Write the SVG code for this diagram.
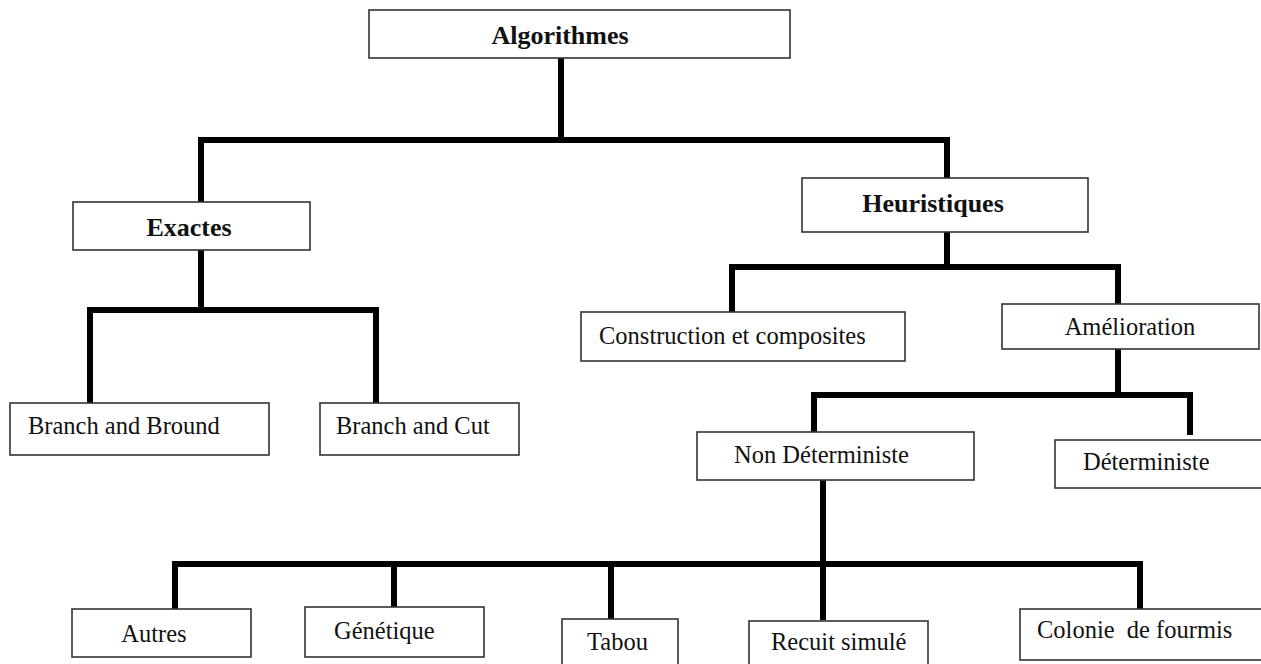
<svg xmlns="http://www.w3.org/2000/svg" width="1261" height="664" viewBox="0 0 1261 664">
<style>
.box{fill:#fff;stroke:#333;stroke-width:1.6}
.b{font-family:"Liberation Serif","Times New Roman",serif;font-weight:bold;font-size:26px;fill:#111}
.r{font-family:"Liberation Serif","Times New Roman",serif;font-size:24.5px;fill:#111}
.c{fill:none;stroke:#000;stroke-width:6;stroke-linejoin:miter;stroke-linecap:butt}
</style>
<rect width="1261" height="664" fill="#fff"/>
<g id="connectors">
<path class="c" d="M561 58 V140"/>
<path class="c" d="M201 202 V140 H947 V178"/>
<path class="c" d="M201 250 V310"/>
<path class="c" d="M90 403 V310 H376 V403"/>
<path class="c" d="M947 232 V267"/>
<path class="c" d="M732 312 V267 H1118 V304"/>
<path class="c" d="M1118 349 V395"/>
<path class="c" d="M814 432 V395 H1190 V435"/>
<path class="c" d="M823 480 V620"/>
<path class="c" d="M175 609 V564 H1140 V609"/>
<path class="c" d="M394 564 V607"/>
<path class="c" d="M611 564 V619"/>
</g>
<g id="algorithmes"><rect class="box" x="369" y="10" width="421" height="48"/><text class="b" x="560" y="44" text-anchor="middle">Algorithmes</text></g>
<g id="exactes"><rect class="box" x="73" y="202" width="237" height="48"/><text class="b" x="189" y="236" text-anchor="middle">Exactes</text></g>
<g id="heuristiques"><rect class="box" x="802" y="178" width="286" height="54"/><text class="b" x="933" y="212" text-anchor="middle">Heuristiques</text></g>
<g id="construction"><rect class="box" x="581" y="312" width="324" height="49"/><text class="r" x="599" y="344">Construction et composites</text></g>
<g id="amelioration"><rect class="box" x="1002" y="304" width="257" height="45"/><text class="r" x="1130" y="335" text-anchor="middle">Amélioration</text></g>
<g id="branch-bround"><rect class="box" x="10" y="403" width="259" height="52"/><text class="r" x="28" y="434">Branch and Bround</text></g>
<g id="branch-cut"><rect class="box" x="320" y="403" width="199" height="52"/><text class="r" x="336" y="434">Branch and Cut</text></g>
<g id="non-deterministe"><rect class="box" x="697" y="432" width="277" height="48"/><text class="r" x="734" y="463">Non Déterministe</text></g>
<g id="deterministe"><rect class="box" x="1055" y="440" width="215" height="48"/><text class="r" x="1083" y="470">Déterministe</text></g>
<g id="autres"><rect class="box" x="72" y="609" width="179" height="48"/><text class="r" x="154" y="642" text-anchor="middle">Autres</text></g>
<g id="genetique"><rect class="box" x="305" y="607" width="179" height="50"/><text class="r" x="334" y="639">Génétique</text></g>
<g id="tabou"><rect class="box" x="562" y="619" width="116" height="60"/><text class="r" x="587" y="650">Tabou</text></g>
<g id="recuit"><rect class="box" x="749" y="621" width="179" height="60"/><text class="r" x="771" y="650">Recuit simulé</text></g>
<g id="colonie"><rect class="box" x="1020" y="609" width="250" height="51"/><text class="r" x="1037" y="638" xml:space="preserve">Colonie  de fourmis</text></g>
</svg>
